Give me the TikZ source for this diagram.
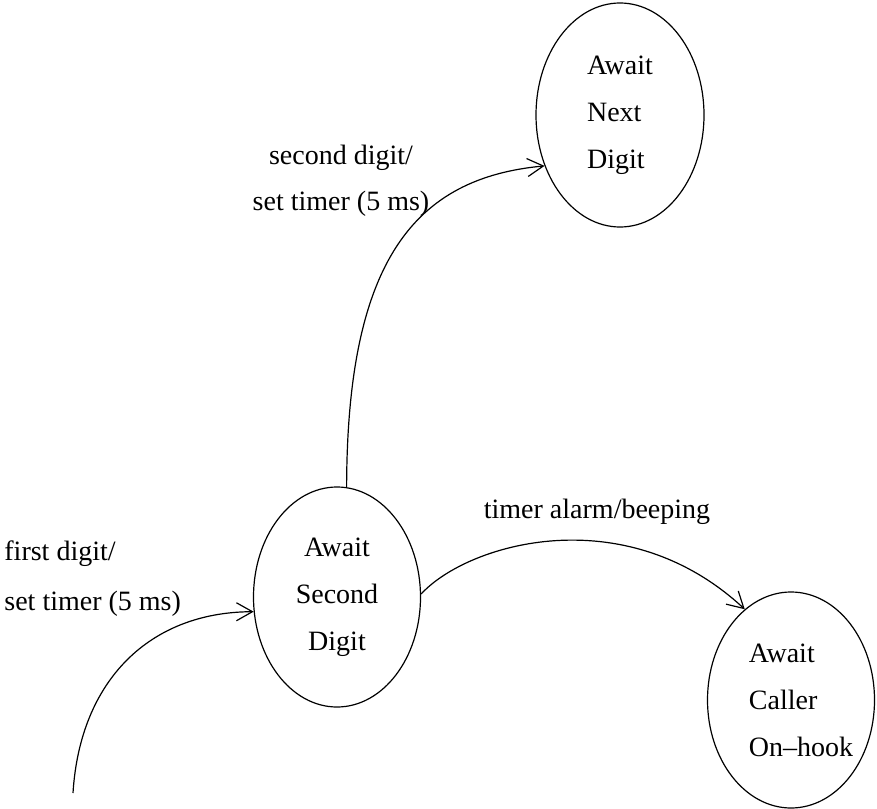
\documentclass[tikz,border=0pt]{standalone}
\usepackage{fontspec}
\setmainfont{Liberation Serif}
\usetikzlibrary{shapes.geometric,arrows.meta}
\begin{document}
\begin{tikzpicture}[x=0.5pt,y=-0.5pt,
  state/.style={draw, ellipse, inner sep=0pt, line width=0.6pt,
    font=\fontsize{14}{23.5}\selectfont},
  lbl/.style={inner sep=0pt, font=\fontsize{14}{25}\selectfont},
  trans/.style={line width=0.6pt, -{Straight Barb[length=8pt,width=9pt]}}]
\useasboundingbox (0,0) rectangle (877,808);

% states
\node[state, minimum width=84pt, minimum height=112pt, align=left]
  (next) at (620,115) {Await\\Next\\Digit};
\node[state, minimum width=83.5pt, minimum height=110pt, align=center]
  (second) at (337,597) {Await\\Second\\Digit};
\node[state, minimum width=83.5pt, minimum height=108pt, align=left,
  inner xsep=-4pt]
  (caller) at (791,700)
  {\hspace*{10pt}Await\\\hspace*{10pt}Caller\\\hspace*{10pt}On--hook};

% free end of the initial transition
\coordinate (init) at (73,793);

% transitions
\draw[trans] (init) .. controls (80,680) and (150,612) .. (second.190);
\draw[trans] (second.85) .. controls (347,260) and (415,178) .. (next.214);
\draw[trans] (second.2) .. controls (468,543) and (625,498) .. (caller.117);

% transition labels
\node[lbl, anchor=west, align=left] (l1) at (4,579) {first digit/\\set timer (5 ms)};
\node[lbl, align=center, font=\fontsize{14}{23}\selectfont] (l2) at (341,181)
  {second digit/\\set timer (5 ms)};
\node[lbl] (l3) at (597,512) {timer alarm/beeping};
\end{tikzpicture}
\end{document}
